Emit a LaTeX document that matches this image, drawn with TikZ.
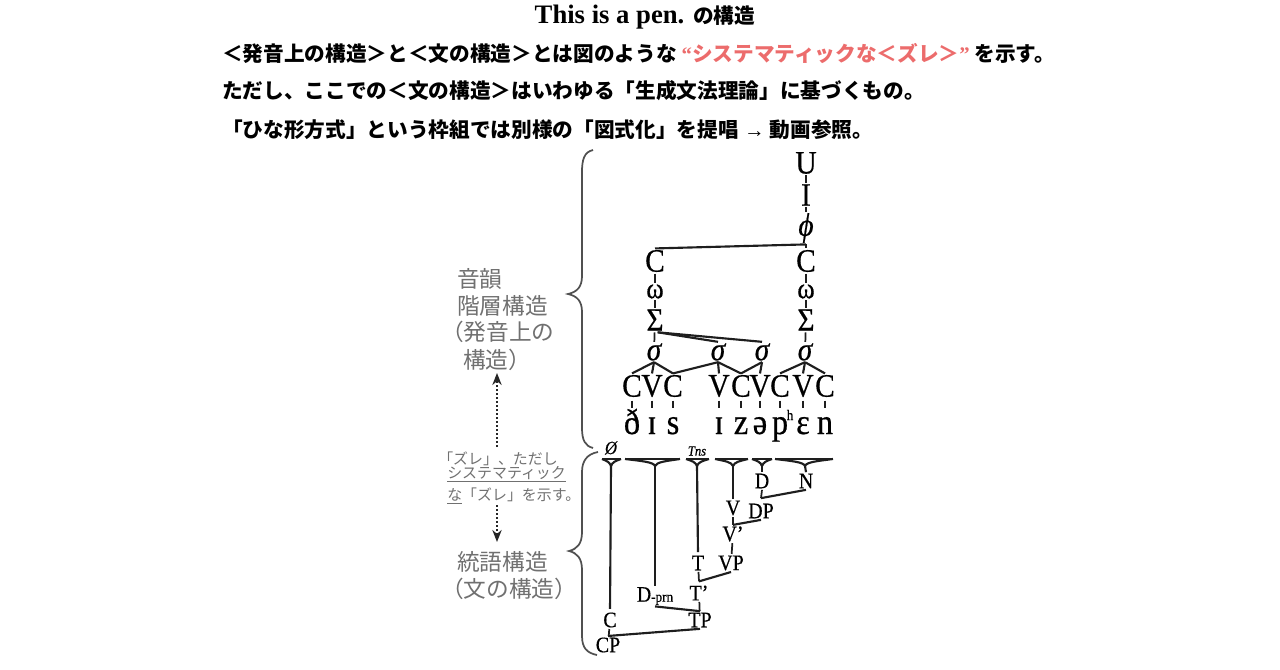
\documentclass[tikz,border=0pt]{standalone}
\usepackage{fontspec}
\setmainfont{Liberation Serif}
\newfontfamily\jp{Noto Sans CJK JP}
\newfontfamily\trf[FakeStretch=0.9,FakeBold=0.5]{Liberation Serif}
\usetikzlibrary{arrows.meta,calc}
\definecolor{quotecol}{RGB}{236,108,108}
\definecolor{labcol}{RGB}{112,112,112}
\definecolor{lncol}{RGB}{30,30,30}
\definecolor{bracecol}{RGB}{80,80,80}
\newcommand\mytri[4]{%
  \coordinate (#1) at (#4,466);
  \draw[ln] (#2,459) -- (#3,459);
  \draw[ln,line join=round] (#2,459) .. controls ({#4-(#4-#2)*0.45},461) and ({#4-1.5},462) .. (#4,466)
     .. controls ({#4+1.5},462) and ({#4+(#3-#4)*0.45},461) .. (#3,459);
}
\begin{document}
\begin{tikzpicture}[x=0.75pt,y=-0.75pt,
  ln/.style={line width=1.6pt,draw=lncol},
  tk/.style={line width=1.3pt,draw=lncol},
  pn/.style={font=\trf\fontsize{24.5}{24.5}\selectfont,inner sep=1pt},
  pw/.style={font=\trf\fontsize{22}{22}\selectfont,inner sep=1pt},
  pni/.style={font=\trf\itshape\fontsize{24.5}{24.5}\selectfont,inner sep=1pt},
  phr/.style={font=\trf\fontsize{27}{27}\selectfont,inner sep=1pt,anchor=base,text height=18.6pt,text depth=5pt},
  sy/.style={font=\trf\fontsize{16.6}{16.6}\selectfont,inner sep=1pt},
  hd/.style={font=\jp\bfseries\fontsize{15.5}{15.5}\selectfont,inner sep=0pt,anchor=west},
  lab/.style={font=\jp\fontsize{17}{17}\selectfont,text=labcol,inner sep=0pt,anchor=west},
  labs/.style={font=\jp\fontsize{11.2}{11.2}\selectfont,text=labcol,inner sep=0pt,anchor=west},
  brc/.style={line width=1.3pt,draw=bracecol},
  darr/.style={line width=1.6pt,draw=black!85,dash pattern=on 1.4pt off 1.6pt,-{Stealth[length=9pt,width=7pt]}}
]
\useasboundingbox (0,0) rectangle (1280,670);

% ---------- header ----------
\node[inner sep=0pt] (title) at (645,17) {\fontsize{20}{20}\selectfont\bfseries This is a pen. {\jp\fontsize{15.5}{15.5}\selectfont の構造}};
\node[hd] (l2) at (222,54) {＜発音上の構造＞と＜文の構造＞とは図のような {\color{quotecol}{\rmfamily “}システマティックな＜ズレ＞{\rmfamily ”}} を示す。};
\node[hd] (l3) at (222,91) {ただし、ここでの＜文の構造＞はいわゆる「生成文法理論」に基づくもの。};
\node[hd] (l4) at (222,130) {「ひな形方式」という枠組では別様の「図式化」を提唱{\rmfamily\ →\ }動画参照。};

% ---------- braces ----------
\draw[brc] (593,150) .. controls (584,152) and (582,160) .. (582,172) -- (582,276)
  .. controls (582,287) and (577,292) .. (568,294) .. controls (577,296) and (582,301) .. (582,312)
  -- (582,428) .. controls (582,440) and (585,446) .. (593,448);
\draw[brc] (598,452) .. controls (587,454) and (582,461) .. (582,472) -- (582,532)
  .. controls (582,544) and (577,549) .. (569,551) .. controls (577,553) and (582,558) .. (582,570)
  -- (582,636) .. controls (582,648) and (587,653) .. (597,655);

% ---------- left labels ----------
\node[lab] (ph1) at (457,279) {音韻};
\node[lab] (ph2) at (457,306) {階層構造};
\node[lab] (ph3) at (441,332) {（発音上の};
\node[lab] (ph4) at (463,360) {構造）};
\node[labs] (z1) at (438,459) {「ズレ」、ただし};
\node[labs] (z2) at (447,474) {\underline{システマティック}};
\node[labs] (z3) at (447,496) {\underline{な}「ズレ」を示す。};
\node[lab] (sy1) at (457,562) {統語構造};
\node[lab] (sy2) at (441,589) {（文の構造）};
\coordinate (au0) at (497,447);
\coordinate (au1) at (497,373);
\coordinate (ad0) at (497,505);
\coordinate (ad1) at (497,542);
\draw[darr] (au0) -- (au1);
\draw[darr] (ad0) -- (ad1);

% ---------- phonological tree ----------
\node[pn] (U) at (806,163) {U};
\node[pn] (I) at (806,195) {I};
\node[pni] (phi) at (806,228) {ϕ};
\node[pn] (CL) at (655,261) {C};
\node[pn] (CR) at (806,261) {C};
\node[pw] (wL) at (655,291.5) {ω};
\node[pw] (wR) at (806,291.5) {ω};
\node[pn] (SL) at (655,320) {Σ};
\node[pn] (SR) at (806,320) {Σ};
\node[pni] (s1) at (654,352) {σ};
\node[pni] (s2) at (718,352) {σ};
\node[pni] (s3) at (762,352) {σ};
\node[pni] (s4) at (805,352) {σ};
\node[pn] (c1) at (632,386) {C};
\node[pn] (c2) at (652,386) {V};
\node[pn] (c3) at (673,386) {C};
\node[pn] (c4) at (719,386) {V};
\node[pn] (c5) at (741,386) {C};
\node[pn] (c6) at (760,386) {V};
\node[pn] (c7) at (780,386) {C};
\node[pn] (c8) at (803,386) {V};
\node[pn] (c9) at (825,386) {C};
\node[phr] (p1) at (632,434) {ð};
\node[phr] (p2) at (652,434) {ɪ};
\node[phr] (p3) at (673,434) {s};
\node[phr] (p4) at (719,434) {ɪ};
\node[phr] (p5) at (741,434) {z};
\node[phr] (p6) at (760,434) {ə};
\node[phr] (p7) at (780,434) {p\rlap{\kern-1pt\raisebox{10.5pt}{\fontsize{11}{11}\selectfont h}}};
\node[phr] (p8) at (803,434) {ɛ};
\node[phr] (p9) at (825,434) {n};

\draw[tk] (U) -- (I);
\draw[tk] (I) -- (phi);
\draw[tk] (phi) -- (CR);
\draw[ln] (phi.south) -- (CL.north);
\draw[tk] (CL) -- (wL);
\draw[tk] (CR) -- (wR);
\draw[tk] (wL) -- (SL);
\draw[tk] (wR) -- (SR);
\draw[tk] (SL) -- (s1);
\draw[tk] (SR) -- (s4);
\draw[ln] ([xshift=2pt]SL.south) -- (s2.north);
\draw[ln] ([xshift=2pt]SL.south) -- (s3.north);
\foreach \s/\c in {s1/c1,s1/c2,s1/c3,s2/c3,s2/c4,s2/c5,s3/c5,s3/c6,s4/c7,s4/c8,s4/c9}
  \draw[ln] (\s.south) -- (\c.north);
\foreach \i in {1,...,9}
  \draw[tk,shorten <=1.5pt] (c\i) -- (p\i);

% ---------- syntactic tree ----------
\node[font=\trf\itshape\fontsize{14}{14}\selectfont,inner sep=0pt] (nul) at (611,448) {Ø};
\node[font=\trf\itshape\fontsize{10.5}{10.5}\selectfont,inner sep=0pt] (tns) at (697,451) {Tns};
\mytri{t1}{602}{621}{611}
\mytri{t2}{625}{680}{655}
\mytri{t3}{686}{709}{697}
\mytri{t4}{715}{748}{733}
\mytri{t5}{752}{772}{762}
\mytri{t6}{775}{833}{805}

\node[sy] (D) at (762,481) {D};
\node[sy] (N) at (806,481) {N};
\node[sy] (V) at (733,508) {V};
\node[sy] (DP) at (761,511) {DP};
\node[sy] (Vb) at (733,534) {V’};
\node[sy] (T) at (698,563) {T};
\node[sy] (VP) at (731,563) {VP};
\node[sy] (Dprn) at (655,596) {D{\fontsize{11}{11}\selectfont -prn}};
\node[sy] (Tb) at (699,593) {T’};
\node[sy] (Cc) at (610,620) {C};
\node[sy] (TP) at (700,620) {TP};
\node[sy] (CP) at (608,645) {CP};

\draw[ln,shorten >=1.5pt] (t1) -- (Cc.north);
\draw[ln] (t2) -- (Dprn.north);
\draw[ln,shorten >=1.5pt] (t3) -- (T.north);
\draw[ln] (t4) -- (V.north);
\draw[ln] (t5) -- (D.north);
\draw[ln] (t6) -- (N.north);

\draw[tk] (D.south) -- ([yshift=3pt]DP.north);
\draw[ln] ([yshift=3pt]DP.north) -- (N.south);
\draw[tk] (V) -- (Vb);
\draw[ln] (Vb.north) -- (DP.south);
\draw[tk] (Vb) -- (VP);
\draw[tk] (T) -- ([yshift=2pt]Tb.north);
\draw[ln] ([yshift=2pt]Tb.north) -- (VP.south);
\draw[tk] (Tb) -- (TP);
\draw[ln] (TP.north) -- (Dprn.south);
\draw[tk] (Cc) -- (CP);
\draw[ln] (CP.north) -- (TP.south);
\end{tikzpicture}
\end{document}
